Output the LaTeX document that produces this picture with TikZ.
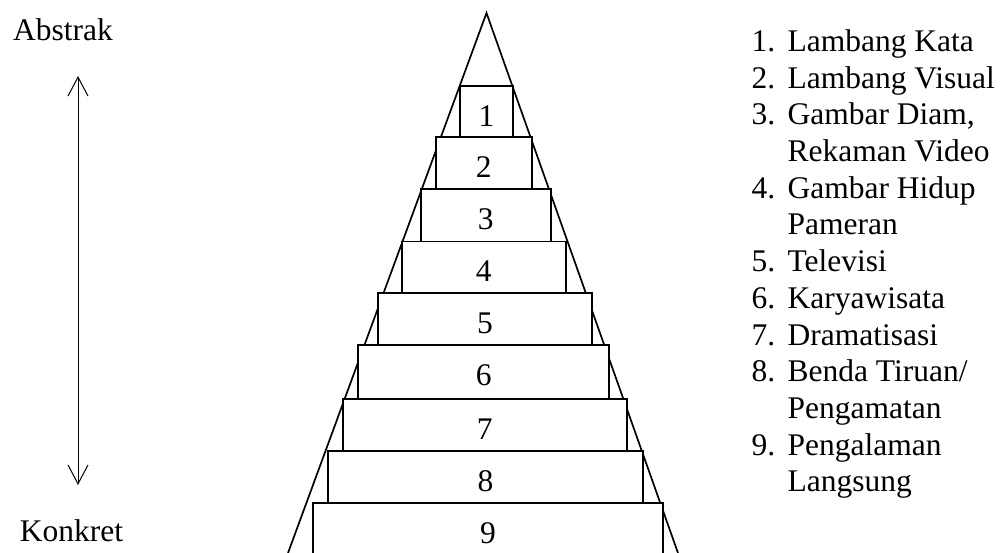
\documentclass[tikz,border=0pt]{standalone}
\usepackage{fontspec}
\setmainfont{Liberation Serif}
\usetikzlibrary{arrows.meta}
\begin{document}
\begin{tikzpicture}[x=1pt,y=-1pt,
  txt/.style={inner sep=0pt,font=\fontsize{31.5}{36.67}\selectfont},
  outl/.style={line width=1.7pt,line join=miter},
  stepbox/.style={outl,fill=white},
  dbl/.style={line width=1pt,{Straight Barb[length=19pt,width=20pt]}-{Straight Barb[length=19pt,width=20pt]}}]
\useasboundingbox (0,0) rectangle (1003,553);
% triangle
\coordinate (tl) at (288,553);
\coordinate (apex) at (486.5,13);
\coordinate (tr) at (678,553);
\draw[outl] (tl) -- (apex) -- (tr);
% boxes
\draw[stepbox] (460,86) rectangle (513.3,137.3);
\draw[stepbox] (436,137.3) rectangle (531.7,189.3);
\draw[stepbox] (421,189.3) rectangle (550.7,241.5);
\draw[stepbox] (401.7,241.5) rectangle (565.7,293.3);
\draw[stepbox] (378.3,293.3) rectangle (591.7,344.8);
\draw[stepbox] (358.3,344.8) rectangle (609,399.3);
\draw[stepbox] (343,399.3) rectangle (626.7,451);
\draw[stepbox] (328,451) rectangle (643,503);
\fill[white] (313,503) rectangle (663,553);
\draw[outl] (313,553) -- (313,503) -- (663,503) -- (663,553);
% numbers
\node[txt,anchor=base] (b1) at (486.6,126.7) {1};
\node[txt,anchor=base] (b2) at (483.8,177.5) {2};
\node[txt,anchor=base] (b3) at (485.8,229.3) {3};
\node[txt,anchor=base] (b4) at (483.7,281.5) {4};
\node[txt,anchor=base] (b5) at (485,333.3) {5};
\node[txt,anchor=base] (b6) at (483.7,385) {6};
\node[txt,anchor=base] (b7) at (484.8,439.3) {7};
\node[txt,anchor=base] (b8) at (485.5,491) {8};
\node[txt,anchor=base] (b9) at (488,543.3) {9};
% left labels and arrow
\node[txt,anchor=base west] (abs) at (13,40.7) {Abstrak};
\node[txt,anchor=base west] (kon) at (19.7,541.7) {Konkret};
\coordinate (atop) at (78,76);
\coordinate (abot) at (78,485);
\draw[dbl] (atop) -- (abot);
% list
\foreach \y/\t in {51.7/Lambang Kata,88.3/Lambang Visual,125/{Gambar Diam,},161.7/Rekaman Video,198.3/Gambar Hidup,235/Pameran,271.7/Televisi,308.3/Karyawisata,345/Dramatisasi,381.7/{Benda Tiruan/},418.3/Pengamatan,455/Pengalaman,491.7/Langsung}{
  \node[txt,anchor=base west] (ln\y) at (787.4,\y) {\t};
}
\foreach \n/\y in {1/51.7,2/88.3,3/125,4/198.3,5/271.7,6/308.3,7/345,8/381.7,9/455}{
  \node[txt,anchor=base east] (num\n) at (775.5,\y) {\n.};
}
\end{tikzpicture}
\end{document}
